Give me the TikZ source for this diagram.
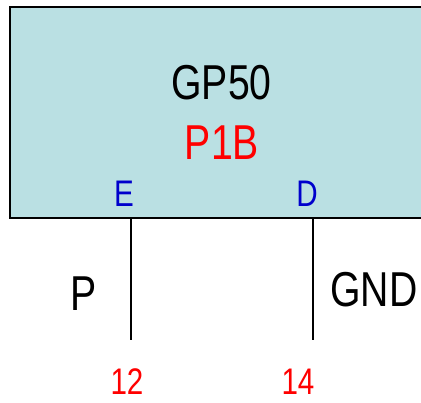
\documentclass[tikz,border=0pt]{standalone}
\usepackage{fontspec}
\setmainfont{Liberation Sans}[FakeStretch=0.8]
\definecolor{boxfill}{RGB}{186,224,227}
\definecolor{pinblue}{RGB}{0,0,204}
\definecolor{pinred}{RGB}{255,0,0}
\tikzset{
  lbl/.style={inner sep=0pt, anchor=base},
  big/.style={lbl, font=\fontsize{49}{49}\selectfont},
  small/.style={lbl, font=\fontsize{37}{37}\selectfont},
  wire/.style={line width=1.6pt}
}
\begin{document}
\begin{tikzpicture}[x=1pt,y=-1pt]
\useasboundingbox (0,0) rectangle (421,403);
\begin{scope}
\clip (0,0) rectangle (421,403);
\draw[line width=1.6pt, fill=boxfill] (10,7) rectangle (440,218);
\end{scope}
\node[big] (gp) at (221.5,100) {GP50};
\node[big, text=pinred] (p1b) at (222,160) {P1B};
\node[small, text=pinblue] (e) at (124,207) {E};
\node[small, text=pinblue] (d) at (307,207) {D};
\coordinate (etop) at (131,218);
\coordinate (ebot) at (131,340);
\coordinate (dtop) at (313,218);
\coordinate (dbot) at (313,340);
\draw[wire] (etop) -- (ebot);
\draw[wire] (dtop) -- (dbot);
\node[big] (p) at (84,311) {P};
\node[big] (gnd) at (374,307) {GND};
\node[small, text=pinred] (n12) at (127,394.5) {12};
\node[small, text=pinred] (n14) at (298,394.5) {14};
\end{tikzpicture}
\end{document}
